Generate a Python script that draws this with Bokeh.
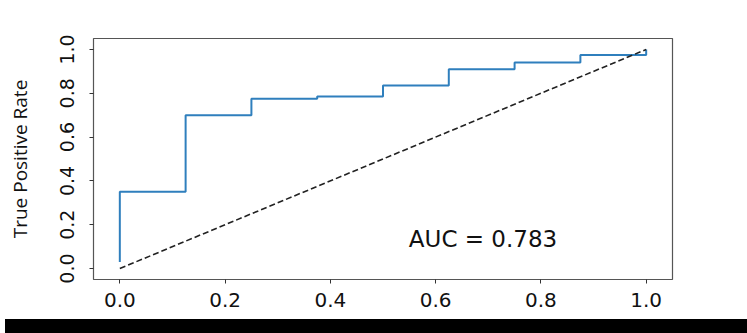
from bokeh.plotting import figure
from bokeh.models import Range1d, FixedTicker, Div, Label
from bokeh.layouts import column
from bokeh.embed import file_html
from bokeh.resources import INLINE

# ROC curve points
fpr = [0.0, 0.0, 0.125, 0.125, 0.25, 0.25, 0.375, 0.375, 0.5, 0.5,
       0.625, 0.625, 0.75, 0.75, 0.875, 0.875, 1.0, 1.0]
tpr = [0.03, 0.35, 0.35, 0.70, 0.70, 0.775, 0.775, 0.785, 0.785, 0.835,
       0.835, 0.91, 0.91, 0.94, 0.94, 0.975, 0.975, 1.0]
chance_x = [0.0, 1.0]
chance_y = [0.0, 1.0]
auc_value = 0.783
tick_values = [0.0, 0.2, 0.4, 0.6, 0.8, 1.0]
tick_labels = {0.0: "0.0", 0.2: "0.2", 0.4: "0.4", 0.6: "0.6", 0.8: "0.8", 1.0: "1.0"}
y_label = "True Positive Rate"

p = figure(width=747, height=314, output_backend="svg", toolbar_location=None,
           x_range=Range1d(-0.05, 1.05), y_range=Range1d(-0.05, 1.05),
           min_border_left=93, min_border_right=75, min_border_top=38,
           min_border_bottom=35)
p.background_fill_color = "white"
p.border_fill_color = "white"
p.outline_line_color = "#555555"
p.outline_line_width = 1.2
p.grid.visible = False

p.line(fpr, tpr, line_color="#2f7fbd", line_width=2)
p.line(chance_x, chance_y, line_color="#222222", line_width=1.6, line_dash="6 3")

for ax in (p.xaxis[0], p.yaxis[0]):
    ax.ticker = FixedTicker(ticks=tick_values)
    ax.major_label_overrides = tick_labels
    ax.axis_line_color = None
    ax.major_tick_line_color = "#333333"
    ax.major_tick_in = 0
    ax.major_tick_out = 4
    ax.minor_tick_line_color = None
    ax.major_label_text_font = "DejaVu Sans"
    ax.major_label_text_color = "#111111"

p.xaxis.major_label_text_font_size = "20px"
p.xaxis.major_label_standoff = 9
p.yaxis.major_label_text_font_size = "19px"
p.yaxis.major_label_orientation = "vertical"
p.yaxis.major_label_standoff = 15
p.yaxis.axis_label = y_label
p.yaxis.axis_label_text_font = "Open Sans"
p.yaxis.axis_label_text_font_style = "normal"
p.yaxis.axis_label_text_font_size = "19px"
p.yaxis.axis_label_text_color = "#111111"
p.yaxis.axis_label_standoff = 25

p.add_layout(Label(x=0.69, y=0.135, text=f"AUC = {auc_value:.3f}",
                   text_align="center", text_baseline="alphabetic",
                   text_font="DejaVu Sans", text_font_size="23px",
                   text_color="#111111"))

bar = Div(text="", width=747, height=19, styles={"background-color": "black"})

layout = column(p, bar, spacing=0)
open("out.html", "w").write(file_html(layout, INLINE))
